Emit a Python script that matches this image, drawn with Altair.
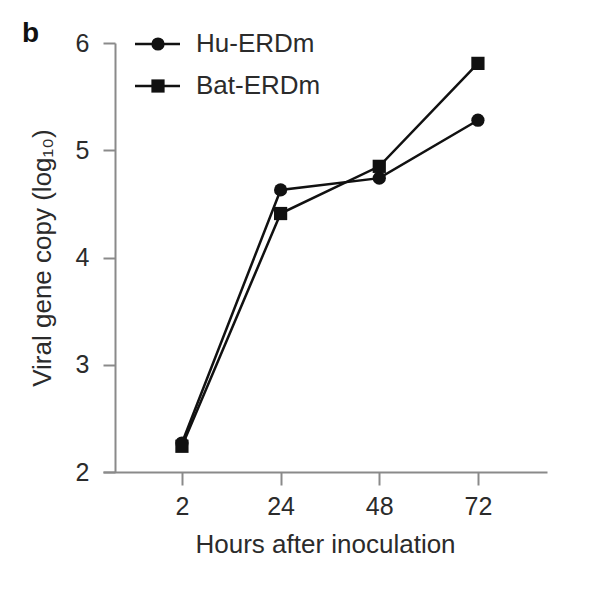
import altair as alt
import pandas as pd

hours = ["2", "24", "48", "72"]
hu_erdm = [2.27, 4.63, 4.74, 5.28]
bat_erdm = [2.24, 4.41, 4.85, 5.81]
series_names = ["Hu-ERDm", "Bat-ERDm"]
y_ticks = [2, 3, 4, 5, 6]
panel_label = ["b"]

rows = []
for name, vals in zip(series_names, [hu_erdm, bat_erdm]):
    for i, (h, v) in enumerate(zip(hours, vals)):
        rows.append({"series": name, "idx": i, "hour": h, "value": v})
df = pd.DataFrame(rows)
legend_df = pd.DataFrame({"series": series_names, "row": list(range(len(series_names)))})
label_df = pd.DataFrame({"t": panel_label})

label_expr = "[" + ",".join("'%s'" % h for h in hours) + "][datum.value]"

FONT = "Liberation Sans"
AXC = "#8a8a8a"
TXT = "#2b2b2b"
INK = "#111111"

x_enc = alt.X(
    "idx:Q",
    scale=alt.Scale(domain=[-0.8, 3.7], nice=False, zero=False),
    axis=alt.Axis(
        values=[0, 1, 2, 3], labelExpr=label_expr, title="Hours after inoculation",
        grid=False, tickSize=13, tickWidth=2, tickColor=AXC, domainColor=AXC,
        domainWidth=2, labelFontSize=25, labelPadding=9, titleFontSize=26,
        titlePadding=12, labelColor=TXT, titleColor=TXT, labelFont=FONT,
        titleFont=FONT, titleFontWeight="normal",
    ),
)
y_enc = alt.Y(
    "value:Q",
    scale=alt.Scale(domain=[2, 6], nice=False, zero=False),
    axis=alt.Axis(
        values=y_ticks, title="Viral gene copy (log\u2081\u2080)", grid=False,
        offset=-12, tickSize=12, tickWidth=2, tickColor=AXC, domainColor=AXC,
        domainWidth=2, labelFontSize=25, labelPadding=14, titleFontSize=26,
        titlePadding=20, labelColor=TXT, titleColor=TXT, labelFont=FONT,
        titleFont=FONT, titleFontWeight="normal",
    ),
)

shape_scale = alt.Scale(domain=series_names, range=["circle", "square"])

lines = alt.Chart(df).mark_line(color=INK, strokeWidth=2.5).encode(
    x=x_enc, y=y_enc, detail="series:N", order="idx:Q"
)

points = alt.Chart(df).mark_point(filled=True, color=INK, size=175, opacity=1).encode(
    x=x_enc, y=y_enc,
    shape=alt.Shape("series:N", scale=shape_scale, legend=None),
)
main = alt.layer(lines, points)

# legend drawn from the legend table
ly = alt.Y("row:Q", scale=alt.Scale(domain=[0, 1], range=[1, 43]), axis=None)
leg_rule = alt.Chart(legend_df).mark_rule(color=INK, strokeWidth=2.5).encode(
    x=alt.value(32), x2=alt.value(77), y=ly
)
leg_pts = alt.Chart(legend_df).mark_point(filled=True, color=INK, size=175, opacity=1).encode(
    x=alt.value(55), y=ly,
    shape=alt.Shape("series:N", scale=shape_scale, legend=None),
)
leg_txt = alt.Chart(legend_df).mark_text(
    align="left", baseline="middle", fontSize=26, font=FONT, color=TXT
).encode(x=alt.value(93), y=ly, text="series:N")
legend = alt.layer(leg_rule, leg_pts, leg_txt)

panel = alt.Chart(label_df).mark_text(
    align="left", baseline="alphabetic", fontSize=28, fontWeight="bold", font=FONT, color=INK
).encode(x=alt.value(-81), y=alt.value(-1), text="t:N")

chart = (
    alt.layer(main, legend, panel)
    .resolve_scale(y="independent")
    .properties(
        width=444, height=429,
        autosize=alt.AutoSizeParams(type="none"),
        padding={"left": 95, "top": 35, "right": 45, "bottom": 120},
    )
    .configure_view(stroke=None)
)

chart.save("out.html", embed_options={"renderer": "svg", "actions": False})
